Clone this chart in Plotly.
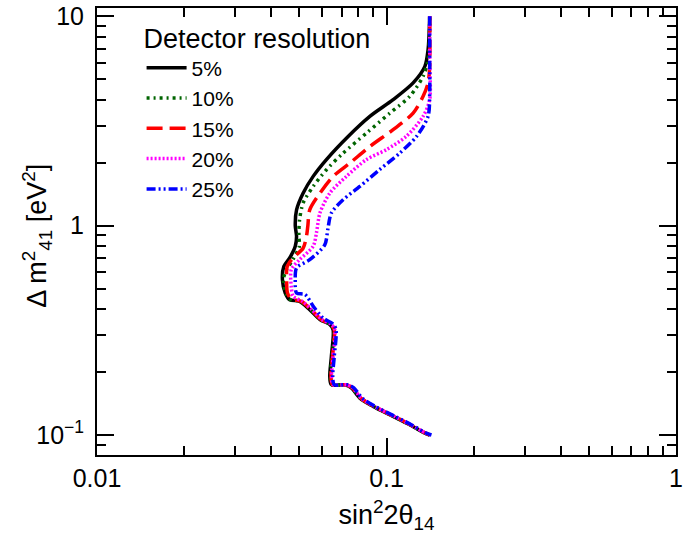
import plotly.graph_objects as go

# ---- data: (sin^2 2theta14, delta m^2_41) contours ----
x_5 = [0.141, 0.1392, 0.1357, 0.1236, 0.1054, 0.0876, 0.0737, 0.0620, 0.0558, 0.0515, 0.0489,
       0.0484, 0.0489, 0.0484, 0.0463, 0.0442, 0.0437, 0.0447, 0.0463, 0.0501, 0.0543, 0.0589,
       0.0637, 0.0654, 0.0645, 0.0637, 0.0645, 0.0718, 0.0756, 0.0809, 0.0899, 0.1054, 0.1203,
       0.1352, 0.141]
y_5 = [10.0, 6.93, 5.77, 4.81, 4.0, 3.33, 2.67, 2.07, 1.72, 1.43, 1.19,
       1.0, 0.889, 0.797, 0.701, 0.639, 0.552, 0.477, 0.443, 0.435, 0.397, 0.356,
       0.337, 0.318, 0.237, 0.1905, 0.1738, 0.1738, 0.168, 0.150, 0.137, 0.1228, 0.112,
       0.1023, 0.100]

x_10 = [0.141, 0.1392, 0.1338, 0.1203, 0.1027, 0.0853, 0.0708, 0.0620, 0.0558, 0.0515, 0.0501,
        0.0498, 0.0500, 0.0475, 0.0452, 0.0440, 0.0449, 0.0466, 0.0504, 0.0546, 0.0592,
        0.0640, 0.0657, 0.0648, 0.0640, 0.0648, 0.0721, 0.0759, 0.0812, 0.0902, 0.1057, 0.1206,
        0.1355, 0.141]
y_10 = [10.0, 6.21, 5.17, 4.15, 3.45, 2.77, 2.22, 1.85, 1.54, 1.283, 1.068,
        0.889, 0.797, 0.688, 0.617, 0.552, 0.477, 0.443, 0.435, 0.397, 0.356,
        0.337, 0.318, 0.237, 0.1905, 0.1738, 0.1738, 0.168, 0.150, 0.137, 0.1228, 0.112,
        0.1023, 0.100]

x_15 = [0.141, 0.141, 0.1392, 0.1338, 0.1236, 0.1054, 0.0876, 0.0747, 0.0654, 0.0589, 0.0543,
        0.0535, 0.0529, 0.0515, 0.0475, 0.0454, 0.0452, 0.0455, 0.0470, 0.0508, 0.0549, 0.0595,
        0.0643, 0.0660, 0.0651, 0.0643, 0.0651, 0.0724, 0.0762, 0.0815, 0.0905, 0.1060, 0.1209,
        0.1358, 0.141]
y_15 = [10.0, 5.8, 4.81, 4.15, 3.45, 2.875, 2.39, 1.99, 1.72, 1.43, 1.19,
        1.0, 0.889, 0.78, 0.701, 0.639, 0.552, 0.477, 0.445, 0.435, 0.397, 0.356,
        0.337, 0.318, 0.237, 0.1905, 0.1738, 0.1738, 0.168, 0.150, 0.137, 0.1228, 0.112,
        0.1023, 0.100]

x_20 = [0.141, 0.141, 0.141, 0.1338, 0.117, 0.100, 0.0853, 0.0727, 0.0637, 0.0589, 0.0573,
        0.0558, 0.0501, 0.0469, 0.0469, 0.0476, 0.0512, 0.0552, 0.0598, 0.0646, 0.0663,
        0.0654, 0.0646, 0.0654, 0.0727, 0.0765, 0.0818, 0.0908, 0.1063, 0.1212, 0.1361, 0.142]
y_20 = [10.0, 6.0, 4.0, 3.33, 2.67, 2.31, 2.07, 1.72, 1.43, 1.15, 0.926,
        0.797, 0.688, 0.617, 0.51, 0.46, 0.435, 0.397, 0.356, 0.337, 0.318,
        0.237, 0.1905, 0.1738, 0.1738, 0.168, 0.150, 0.137, 0.1228, 0.112, 0.1023, 0.100]

x_25 = [0.141, 0.141, 0.141, 0.1392, 0.127, 0.111, 0.0946, 0.0809, 0.0708, 0.0645, 0.0627,
        0.0612, 0.0543, 0.0489, 0.0484, 0.0489, 0.0523, 0.0560, 0.0604, 0.0652, 0.0669,
        0.0660, 0.0652, 0.0660, 0.0733, 0.0771, 0.0824, 0.0914, 0.1069, 0.1218, 0.1367, 0.143]
y_25 = [10.0, 6.0, 4.3, 3.33, 2.67, 2.22, 1.85, 1.54, 1.33, 1.15, 0.96,
        0.81, 0.688, 0.628, 0.552, 0.477, 0.469, 0.410, 0.362, 0.340, 0.320,
        0.237, 0.1905, 0.1738, 0.1738, 0.168, 0.150, 0.137, 0.1228, 0.112, 0.1023, 0.100]

series_names = ["5%", "10%", "15%", "20%", "25%"]
x_tick_vals = [0.01, 0.1, 1]
x_tick_text = ["0.01", "0.1", "1"]
x_minor_vals = [0.02, 0.03, 0.04, 0.05, 0.06, 0.07, 0.08, 0.09,
                0.2, 0.3, 0.4, 0.5, 0.6, 0.7, 0.8, 0.9]
y_tick_vals = [0.1, 1, 10]
y_tick_text = ["10<sup>\u22121</sup>", "1", "10"]
y_minor_vals = [0.09, 0.2, 0.3, 0.4, 0.5, 0.6, 0.7, 0.8, 0.9,
                2, 3, 4, 5, 6, 7, 8, 9]

xs = [x_5, x_10, x_15, x_20, x_25]
ys = [y_5, y_10, y_15, y_20, y_25]
colors = ["black", "#006400", "#ff0000", "#ff00ff", "#0000ff"]
dashes = ["solid", "3px,4px,2px,4px", "16px,7px", "2px,2px", "9px,3px,2px,3px,2px,3px"]

FONT = "Liberation Sans, Arial, sans-serif"
fig = go.Figure()
for xv, yv, nm, c, d in zip(xs, ys, series_names, colors, dashes):
    fig.add_trace(go.Scatter(x=xv, y=yv, mode="lines", name=nm,
                             line=dict(color=c, width=3.5, dash=d, shape="spline", smoothing=0.8)))

def axis_common(minor_vals):
    return dict(type="log", showline=True, linecolor="black", linewidth=2, mirror="allticks",
                ticks="inside", ticklen=17, tickwidth=1.5, tickcolor="black", showgrid=False,
                zeroline=False, automargin=False,
                tickfont=dict(family=FONT, size=25, color="black"),
                minor=dict(ticks="inside", ticklen=9, tickwidth=1.5, tickcolor="black",
                           showgrid=False, tickmode="array", tickvals=minor_vals))

fig.update_xaxes(**axis_common(x_minor_vals), range=[-2, 0], tickmode="array",
                 tickvals=x_tick_vals, ticktext=x_tick_text, ticklabelstandoff=0,
                 title=dict(text="sin<sup>2</sup>2\u03b8<sub>14</sub>",
                            font=dict(family=FONT, size=27, color="black"), standoff=14))
fig.update_yaxes(**axis_common(y_minor_vals), range=[-1.0956, 1.040], tickmode="array",
                 tickvals=y_tick_vals, ticktext=y_tick_text, ticklabelstandoff=6)

fig.add_annotation(text="\u0394 m<sup>2</sup><sub>41</sub> [eV<sup>2</sup>]",
                   xref="paper", yref="paper", x=-0.104, y=0.49, xanchor="center", yanchor="middle",
                   textangle=-90, showarrow=False, font=dict(family=FONT, size=27, color="black"))

fig.update_layout(
    width=685, height=554,
    margin=dict(l=97, r=9, t=8, b=99),
    plot_bgcolor="white", paper_bgcolor="white",
    legend=dict(x=0.077, y=0.99, xanchor="left", yanchor="top", bgcolor="rgba(0,0,0,0)",
                title=dict(text="Detector resolution", font=dict(family=FONT, size=27, color="black")),
                font=dict(family=FONT, size=21, color="black"), itemwidth=40, tracegroupgap=0),
)

fig.write_html("out.html", config={"displayModeBar": False},
               post_script="document.body.style.margin='0px';")
